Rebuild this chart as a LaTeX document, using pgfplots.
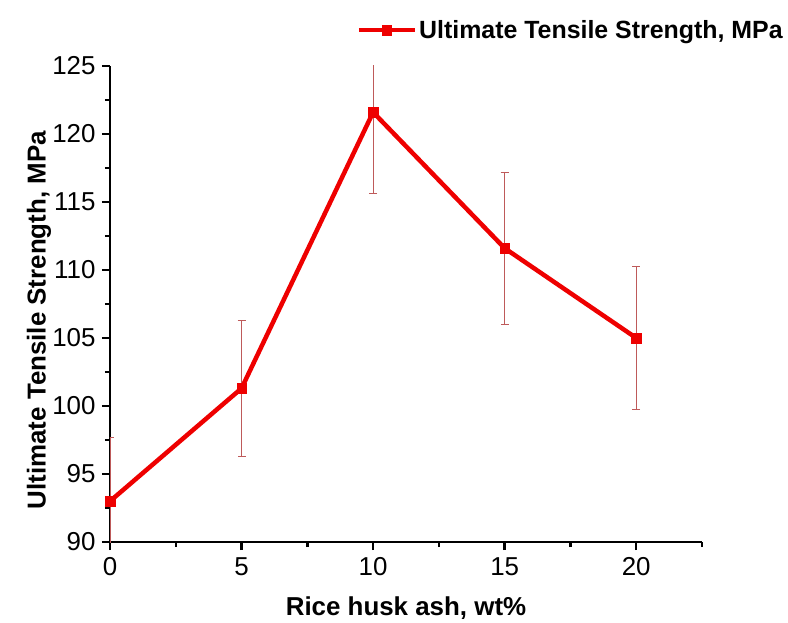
\documentclass[border=0pt]{standalone}
\usepackage{fontspec}
\setmainfont{Liberation Sans}
\usepackage{pgfplots}
\pgfplotsset{compat=1.18}
\definecolor{LineRed}{RGB}{238,0,0}
\definecolor{ErrRed}{RGB}{190,90,90}

\begin{document}
\begin{tikzpicture}
\begin{axis}[
    scale only axis,
    width=592bp, height=476bp,
    xmin=0, xmax=22.5,
    ymin=90, ymax=125,
    axis x line*=bottom, axis y line*=left,
    axis line style={line width=2.6bp,-},
    xtick={0,5,...,20},
    minor xtick={2.5,7.5,...,22.5},
    ytick={90,95,...,125},
    minor ytick={92.5,97.5,...,122.5},
    tick align=outside,
    major tick length=8bp, minor tick length=5bp,
    every tick/.style={black,line width=2.4bp},
    tick label style={font=\fontsize{26}{30}\selectfont},
    xticklabel style={yshift=-4bp},
    yticklabel style={xshift=-3bp},
    /pgf/number format/assume math mode=true,
    xlabel={\bfseries Rice husk ash, wt\%},
    ylabel={\bfseries Ultimate Tensile Strength, MPa},
    label style={font=\fontsize{26}{30}\selectfont},
    xlabel style={at={(axis description cs:0.5,-0.139)}, anchor=center},
    ylabel style={at={(axis description cs:-0.12,0.466)}, anchor=center, rotate=0},
    legend style={at={(1.140,1.0756)}, anchor=east, draw=none, fill=none,
        font=\fontsize{25}{29}\selectfont\bfseries, inner sep=0pt},
    legend image code/.code={\draw[#1,mark repeat=2,mark phase=2]
        plot coordinates {(0bp,0bp) (28bp,0bp) (56bp,0bp)};},
]
\addplot[color=LineRed, line width=4.5bp, mark=square*, mark size=4.8bp,
    mark options={line width=0.5bp},
    error bars/.cd, y dir=both, y explicit,
    error bar style={ErrRed, line width=0.9bp},
    error mark options={ErrRed, line width=0.9bp, mark size=4bp, rotate=90}]
coordinates {
    (0,93.0) +- (0,4.7)
    (5,101.3) +- (0,5.0)
    (10,121.6) +- (0,6.0)
    (15,111.6) +- (0,5.6)
    (20,105.0) +- (0,5.25)
};
\legend{Ultimate Tensile Strength{,} MPa}
\end{axis}
\pgfresetboundingbox
\path ([shift={(-110bp,-81bp)}]current axis.south west)
    rectangle ([shift={(86bp,66bp)}]current axis.north east);
\end{tikzpicture}
\end{document}
